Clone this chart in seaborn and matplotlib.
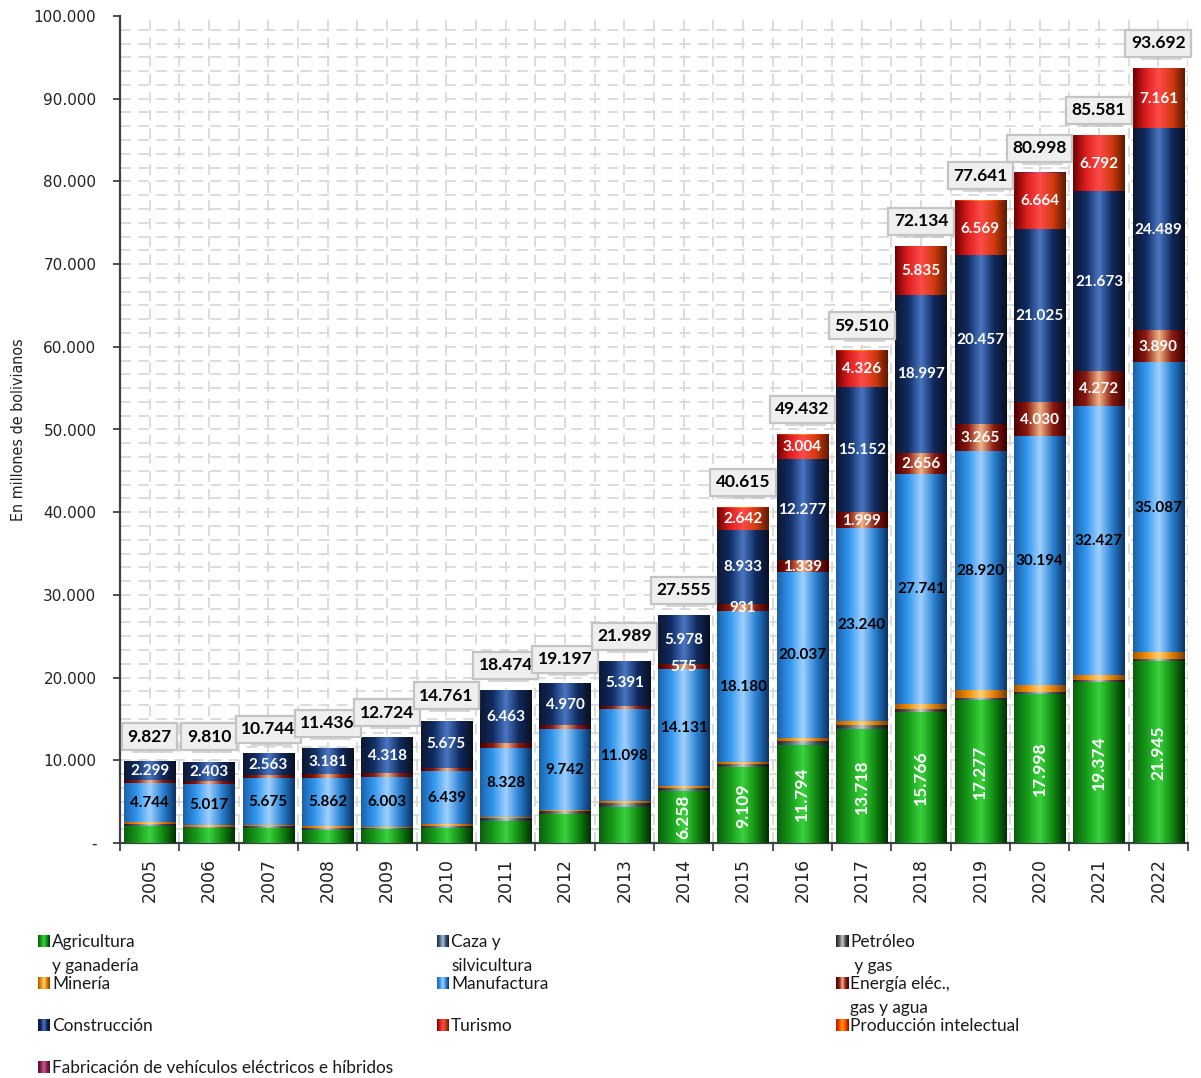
import numpy as np
import pandas as pd
import matplotlib
matplotlib.use("Agg")
import matplotlib.pyplot as plt
import seaborn as sns
from matplotlib.colors import LinearSegmentedColormap
from matplotlib.ticker import FixedLocator, FuncFormatter

# ---- data (millones de bolivianos) ----
years = [str(y) for y in range(2005, 2023)]
agricultura = [2054, 1780, 1706, 1553, 1603, 1777, 2603, 3405, 4300, 6258, 9109,
               11794, 13718, 15766, 17277, 17998, 19374, 21945]
caza = [50, 50, 50, 50, 50, 50, 80, 100, 120, 100, 100, 150, 150, 50, 50, 50, 50, 50]
petroleo = [150, 100, 200, 200, 100, 200, 250, 250, 300, 200, 250, 300, 300, 300,
            200, 200, 200, 200]
mineria = [200, 150, 200, 180, 150, 150, 200, 200, 300, 313, 350, 450, 550, 700,
           850, 750, 700, 750]
manufactura = [4744, 5017, 5675, 5862, 6003, 6439, 8328, 9742, 11098, 14131, 18180,
               20037, 23240, 27741, 28920, 30194, 32427, 35087]
energia = [330, 310, 350, 410, 500, 470, 550, 530, 480, 575, 931, 1339, 1999, 2656,
           3265, 4030, 4272, 3890]
construccion = [2299, 2403, 2563, 3181, 4318, 5675, 6463, 4970, 5391, 5978, 8933,
                12277, 15152, 18997, 20457, 21025, 21673, 24489]
turismo = [0, 0, 0, 0, 0, 0, 0, 0, 0, 0, 2642, 3004, 4326, 5835, 6569, 6664, 6792, 7161]
intelectual = [0, 0, 0, 0, 0, 0, 0, 0, 0, 0, 120, 81, 75, 89, 53, 50, 50, 70]
vehiculos = [0, 0, 0, 0, 0, 0, 0, 0, 0, 0, 0, 0, 0, 0, 0, 37, 43, 50]

series_names = ["Agricultura\ny ganadería", "Caza y\nsilvicultura", "Petróleo\n y gas",
                "Minería", "Manufactura", "Energía eléc.,\ngas y agua",
                "Construcción", "Turismo", "Producción intelectual",
                "Fabricación de vehículos eléctricos e híbridos"]
series_values = [agricultura, caza, petroleo, mineria, manufactura, energia,
                 construccion, turismo, intelectual, vehiculos]

# which series carry value labels, from which year index, and text style
label_rules = {
    0: dict(start=9, color="white", rotation=90, size=12.5),
    4: dict(start=0, color="black", rotation=0, size=11),
    5: dict(start=9, color="white", rotation=0, size=11),
    6: dict(start=0, color="white", rotation=0, size=11),
    7: dict(start=10, color="white", rotation=0, size=11),
}

# cylinder-like gradients across each bar (left edge -> highlight -> right edge)
gradients = [
    ["#0b5e0b", "#16991a", "#3ad23d", "#118a12", "#002f00"],
    ["#1a2a40", "#4a6a90", "#a8c0d8", "#3a5070", "#101a28"],
    ["#202020", "#5e5e5e", "#c8c8c8", "#4c4c4c", "#101010"],
    ["#a85500", "#f08c00", "#ffd27a", "#e07f00", "#7a3c00"],
    ["#1b60aa", "#3297ee", "#9fd0ff", "#2a82d2", "#0a3264"],
    ["#4a0000", "#8a1a10", "#f2b488", "#8a1a10", "#3a0000"],
    ["#0c1830", "#102c62", "#4a76c2", "#0f2a5e", "#0a1020"],
    ["#6e0000", "#dd1f1f", "#ff4a4a", "#d23a10", "#5a1a00"],
    ["#a02000", "#ff4000", "#ffa000", "#ff4000", "#801000"],
    ["#501030", "#8a2050", "#c06090", "#8a2050", "#401020"],
]
mid_colors = [g[1] for g in gradients]
cmaps = [LinearSegmentedColormap.from_list(f"g{i}", list(zip([0, .25, .5, .75, 1], g)))
         for i, g in enumerate(gradients)]


def fmt(v):
    return f"{int(round(v)):,}".replace(",", ".")


plt.rcParams["font.family"] = ["Lato", "DejaVu Sans"]

fig = plt.figure(figsize=(12.01, 10.78), dpi=100)
ax = fig.add_axes([120 / 1201, 1 - 843 / 1078, (1188 - 120) / 1201, (843 - 16) / 1078])

n = len(years)
stack = np.cumsum(np.array(series_values, dtype=float), axis=0)
totals = stack[-1]

# stacked bars: draw cumulative heights from the top layer downward
layer_patches = {}
for k in range(len(series_values) - 1, -1, -1):
    before = len(ax.patches)
    sns.barplot(x=years, y=stack[k], color=mid_colors[k], width=0.86,
                saturation=1, ax=ax, zorder=2, linewidth=0)
    layer_patches[k] = ax.patches[before:before + n]

# gradient fill for every segment, clipped to its own bar
grad = np.linspace(0, 1, 256).reshape(1, -1)
for k, patches in layer_patches.items():
    for i, p in enumerate(patches):
        top = p.get_height()
        bottom = stack[k - 1][i] if k > 0 else 0.0
        if top - bottom <= 0:
            continue
        x0, w = p.get_x(), p.get_width()
        ax.imshow(grad, extent=[x0, x0 + w, bottom, top], aspect="auto",
                  cmap=cmaps[k], zorder=3, interpolation="bilinear")

# value labels inside segments
for k, rule in label_rules.items():
    vals = series_values[k]
    for i in range(rule["start"], n):
        v = vals[i]
        if v <= 0:
            continue
        bottom = stack[k - 1][i] if k > 0 else 0.0
        ax.text(i, bottom + v / 2, fmt(v), ha="center", va="center",
                color=rule["color"], rotation=rule["rotation"],
                fontsize=rule["size"], fontweight="bold", zorder=6)

# totals in boxed labels above each bar
for i, tot in enumerate(totals):
    ax.annotate(" " * 7, xy=(i, tot), xytext=(3, 22), textcoords="offset pixels",
                ha="center", va="center", fontsize=12.5, fontweight="bold",
                bbox=dict(boxstyle="square,pad=0.32", fc="#bdbdbd", ec="none", alpha=0.6),
                zorder=6, annotation_clip=False)
    ax.annotate(fmt(tot), xy=(i, tot), xytext=(0, 25), textcoords="offset pixels",
                ha="center", va="center", fontsize=12.5, fontweight="bold", color="black",
                bbox=dict(boxstyle="square,pad=0.32", fc="#efefef", ec="#c4c4c4", lw=1.6),
                zorder=7, annotation_clip=False)

# axes, ticks and grid
ax.set_xlim(-0.5, n - 0.5)
ax.set_ylim(0, 100000)
ax.set_facecolor("white")
for s in ["top", "right"]:
    ax.spines[s].set_visible(False)
for s in ["left", "bottom"]:
    ax.spines[s].set_color("#3c4048")
    ax.spines[s].set_linewidth(1.6)

ax.yaxis.set_major_locator(FixedLocator(np.arange(0, 100001, 10000)))
ax.yaxis.set_major_formatter(FuncFormatter(lambda v, _: "-" if v == 0 else fmt(v)))
ax.tick_params(axis="y", length=5, width=1.3, color="#3c4048", labelsize=11,
               labelcolor="#222222", pad=12)
for lab in ax.get_yticklabels():
    lab.set_fontfamily("DejaVu Sans")

ax.set_xticks(range(n))
ax.set_xticklabels(years, rotation=90, fontsize=12.5, color="#222222",
                   fontfamily="DejaVu Sans")
ax.tick_params(axis="x", length=0, pad=11)
ax.set_xticks(np.arange(-0.5, n, 1.0), minor=True)
ax.tick_params(axis="x", which="minor", length=6, width=1.3, color="#3c4048")
ax.set_xlabel("")
ax.set_ylabel("En millones de bolivianos", fontsize=11.5, color="#222222",
              fontfamily=["DejaVu Sans Condensed", "DejaVu Sans"],
              fontstretch="condensed")
ax.yaxis.set_label_coords((26 - 120) / 1068, 0.5)

for yv in np.arange(10000 / 6, 100000, 10000 / 6):
    ax.axhline(yv, color="#d9d9d9", lw=1.3, ls=(0, (6, 4)), zorder=0)
for xv in np.arange(-0.5, n, 0.5):
    ax.axvline(xv, color="#d9d9d9", lw=1.3, ls=(0, (6, 4)), zorder=0)

# legend drawn as three columns of gradient swatches
col_x = [38, 437, 836]
row_y = [941, 983, 1025, 1067]
for j, name in enumerate(series_names):
    r, c = divmod(j, 3)
    x, y = col_x[c], row_y[r]
    sw = fig.add_axes([x / 1201, 1 - (y + 6) / 1078, 12 / 1201, 12 / 1078])
    sw.imshow(grad, aspect="auto", cmap=cmaps[j], interpolation="bilinear")
    sw.set_axis_off()
    fig.text((x + 14) / 1201, 1 - (y - 7) / 1078, name, ha="left", va="top",
             fontsize=12.4, color="#1a1a1a", linespacing=1.6)

fig.savefig("out.png", dpi=100)
